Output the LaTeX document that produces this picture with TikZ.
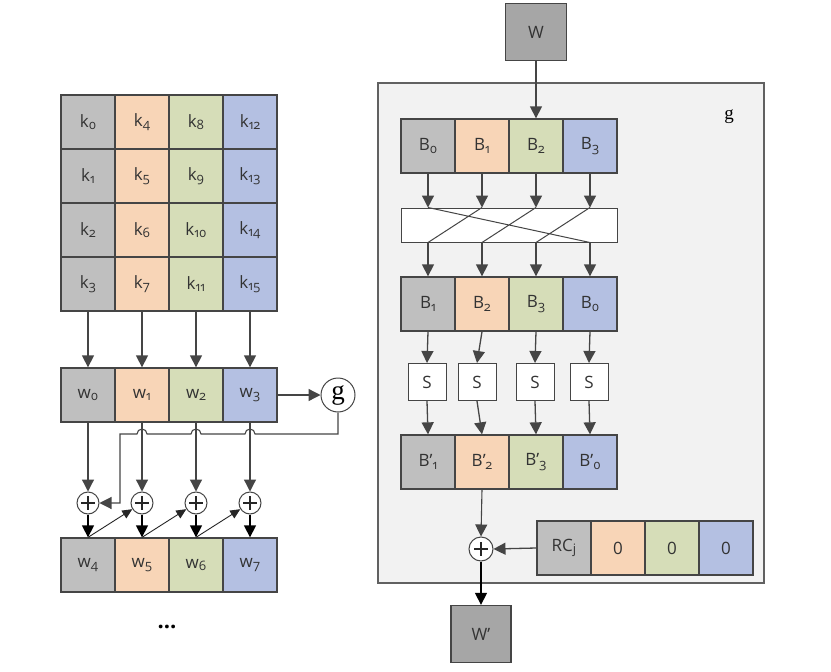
\documentclass[tikz,border=0pt]{standalone}
\usepackage{fontspec}
\setmainfont{Open Sans}
\newfontfamily\subfont{Open Sans}[Numbers=OldStyle]
\newfontfamily\gfont{Liberation Serif}
\usetikzlibrary{arrows.meta}
\definecolor{cgray}{HTML}{BFBFBF}
\definecolor{corange}{HTML}{F8D5B7}
\definecolor{cgreen}{HTML}{D6DDB8}
\definecolor{cblue}{HTML}{B4C0E2}
\definecolor{cdark}{HTML}{A6A6A6}
\definecolor{cframe}{HTML}{F2F2F2}
\definecolor{cline}{HTML}{454545}
\newcommand{\sbs}[1]{\raisebox{-2.5pt}{\subfont\fontsize{13}{13}\selectfont #1}}

\begin{document}
\begin{tikzpicture}[x=1pt, y=-1pt,
  font=\fontsize{17}{20}\selectfont,
  cell/.style={draw=cline, line width=1.3pt, minimum width=54pt, minimum height=54pt, inner sep=0pt, text=black!80},
  sbox/.style={draw=cline, line width=1pt, fill=white, minimum width=38pt, minimum height=37pt, inner sep=0pt, text=black!80},
  xorop/.style={circle, draw=cline, line width=1pt, fill=white, minimum size=22pt, inner sep=0pt,
    path picture={\draw[line width=1.1pt, black!85] (path picture bounding box.center) +(0,7pt) -- +(0,-7pt)
      (path picture bounding box.center) +(-7pt,0) -- +(7pt,0);}},
  arr/.style={draw=cline, line width=1.3pt, -{Triangle[length=12pt,width=12pt]}},
  barr/.style={draw=black, line width=1.3pt, -{Triangle[length=12pt,width=12pt]}},
  darr/.style={draw=black!85, line width=0.9pt, -{Triangle[length=10pt,width=9pt]}}]
  \useasboundingbox (0,0) rectangle (831,672);

  % Key matrix
  \node[cell, fill=cgray]   (k0)  at (88,122) {k\sbs{0}};
  \node[cell, fill=cgray]   (k1)  at (88,176) {k\sbs{1}};
  \node[cell, fill=cgray]   (k2)  at (88,230) {k\sbs{2}};
  \node[cell, fill=cgray]   (k3)  at (88,284) {k\sbs{3}};
  \node[cell, fill=corange] (k4)  at (142,122) {k\sbs{4}};
  \node[cell, fill=corange] (k5)  at (142,176) {k\sbs{5}};
  \node[cell, fill=corange] (k6)  at (142,230) {k\sbs{6}};
  \node[cell, fill=corange] (k7)  at (142,284) {k\sbs{7}};
  \node[cell, fill=cgreen]  (k8)  at (196,122) {k\sbs{8}};
  \node[cell, fill=cgreen]  (k9)  at (196,176) {k\sbs{9}};
  \node[cell, fill=cgreen]  (k10) at (196,230) {k\sbs{10}};
  \node[cell, fill=cgreen]  (k11) at (196,284) {k\sbs{11}};
  \node[cell, fill=cblue]   (k12) at (250,122) {k\sbs{12}};
  \node[cell, fill=cblue]   (k13) at (250,176) {k\sbs{13}};
  \node[cell, fill=cblue]   (k14) at (250,230) {k\sbs{14}};
  \node[cell, fill=cblue]   (k15) at (250,284) {k\sbs{15}};

  % First words and g
  \node[cell, fill=cgray]   (w0) at (88,395)  {w\sbs{0}};
  \node[cell, fill=corange] (w1) at (142,395) {w\sbs{1}};
  \node[cell, fill=cgreen]  (w2) at (196,395) {w\sbs{2}};
  \node[cell, fill=cblue]   (w3) at (250,395) {w\sbs{3}};
  \node[circle, draw=cline, line width=1pt, minimum size=34pt, inner sep=0pt, font=\gfont\fontsize{27}{27}\selectfont] (g) at (338,395) {g};

  \draw[arr] (k3.south)  -- (w0.north);
  \draw[arr] (k7.south)  -- (w1.north);
  \draw[arr] (k11.south) -- (w2.north);
  \draw[arr] (k15.south) -- (w3.north);
  \draw[arr] (w3.east) -- (g.west);

  % XOR row and next words
  \node[xorop] (x0) at (88,503)  {};
  \node[xorop] (x1) at (142,503) {};
  \node[xorop] (x2) at (196,503) {};
  \node[xorop] (x3) at (250,503) {};
  \node[cell, fill=cgray]   (w4) at (88,565)  {w\sbs{4}};
  \node[cell, fill=corange] (w5) at (142,565) {w\sbs{5}};
  \node[cell, fill=cgreen]  (w6) at (196,565) {w\sbs{6}};
  \node[cell, fill=cblue]   (w7) at (250,565) {w\sbs{7}};
  \node[font=\fontsize{22}{24}\selectfont\bfseries] (dots) at (167,627) {...};

  \draw[arr] (w0.south) -- (x0.north);
  \draw[arr] (w1.south) -- (x1.north);
  \draw[arr] (w2.south) -- (x2.north);
  \draw[arr] (w3.south) -- (x3.north);
  \draw[barr] (x0.south) -- (w4.north);
  \draw[barr] (x1.south) -- (w5.north);
  \draw[barr] (x2.south) -- (w6.north);
  \draw[barr] (x3.south) -- (w7.north);
  \draw[darr] (w4.north) -- (x1);
  \draw[darr] (w5.north) -- (x2);
  \draw[darr] (w6.north) -- (x3);

  % Feedback from g, hopping over the columns
  \coordinate (gturn) at (338,434);
  \coordinate (fbk) at (120,434);
  \coordinate (fbd) at (120,503);
  \draw[arr, line width=1.1pt] (g.south) -- (gturn) -- (255,434) arc[start angle=0, end angle=180, radius=5pt]
    -- (201,434) arc[start angle=0, end angle=180, radius=5pt]
    -- (147,434) arc[start angle=0, end angle=180, radius=5pt]
    -- (fbk) -- (fbd) -- (x0.east);

  % Function g
  \node[draw=cline!85, line width=1.3pt, fill=cframe, minimum width=386pt, minimum height=500pt] (gbox) at (571,333) {};
  \node[font=\gfont\fontsize{19}{19}\selectfont] (glabel) at (729,117) {g};
  \node[cell, fill=cdark, minimum width=61pt, minimum height=57pt] (W) at (536,32) {W};

  \node[cell, fill=cgray]   (b0) at (428,146) {B\sbs{0}};
  \node[cell, fill=corange] (b1) at (482,146) {B\sbs{1}};
  \node[cell, fill=cgreen]  (b2) at (536,146) {B\sbs{2}};
  \node[cell, fill=cblue]   (b3) at (590,146) {B\sbs{3}};
  \draw[arr] (W.south) -- (b2.north);

  % Rotation box
  \node[draw=cline, line width=1pt, fill=white, minimum width=216pt, minimum height=34pt] (rot) at (509,225) {};
  \coordinate (t0) at (b0 |- rot.north);
  \coordinate (t1) at (b1 |- rot.north);
  \coordinate (t2) at (b2 |- rot.north);
  \coordinate (t3) at (b3 |- rot.north);
  \coordinate (u0) at (b0 |- rot.south);
  \coordinate (u1) at (b1 |- rot.south);
  \coordinate (u2) at (b2 |- rot.south);
  \coordinate (u3) at (b3 |- rot.south);
  \draw[arr] (b0.south) -- (t0);
  \draw[arr] (b1.south) -- (t1);
  \draw[arr] (b2.south) -- (t2);
  \draw[arr] (b3.south) -- (t3);
  \draw[cline, line width=1pt] (t0) -- (u3) (t1) -- (u0) (t2) -- (u1) (t3) -- (u2);

  \node[cell, fill=cgray]   (c0) at (428,304) {B\sbs{1}};
  \node[cell, fill=corange] (c1) at (482,304) {B\sbs{2}};
  \node[cell, fill=cgreen]  (c2) at (536,304) {B\sbs{3}};
  \node[cell, fill=cblue]   (c3) at (590,304) {B\sbs{0}};
  \draw[arr] (u0) -- (c0.north);
  \draw[arr] (u1) -- (c1.north);
  \draw[arr] (u2) -- (c2.north);
  \draw[arr] (u3) -- (c3.north);

  % S-boxes
  \node[sbox] (s0) at (427,382) {S};
  \node[sbox] (s1) at (477,382) {S};
  \node[sbox] (s2) at (535,382) {S};
  \node[sbox] (s3) at (589,382) {S};
  \draw[arr] (c0.south) -- (s0.north);
  \draw[arr] (c1.south) -- (s1.north);
  \draw[arr] (c2.south) -- (s2.north);
  \draw[arr] (c3.south) -- (s3.north);

  \node[cell, fill=cgray]   (d0) at (428,462) {B’\sbs{1}};
  \node[cell, fill=corange] (d1) at (482,462) {B’\sbs{2}};
  \node[cell, fill=cgreen]  (d2) at (536,462) {B’\sbs{3}};
  \node[cell, fill=cblue]   (d3) at (590,462) {B’\sbs{0}};
  \draw[arr] (s0.south) -- (d0.north);
  \draw[arr] (s1.south) -- (d1.north);
  \draw[arr] (s2.south) -- (d2.north);
  \draw[arr] (s3.south) -- (d3.north);

  % Round constant
  \node[xorop, minimum size=24pt] (xr) at (481,549) {};
  \node[cell, fill=cgray]   (r0) at (564,548) {RC\sbs{j}};
  \node[cell, fill=corange] (r1) at (618,548) {0};
  \node[cell, fill=cgreen]  (r2) at (672,548) {0};
  \node[cell, fill=cblue]   (r3) at (726,548) {0};
  \node[cell, fill=cdark, minimum width=60pt, minimum height=57pt] (Wp) at (481,634) {W’};

  \draw[arr, line width=1.1pt] (d1.south) -- (xr.north);
  \draw[arr] (r0.west) -- (xr.east);
  \draw[barr] (xr.south) -- (Wp.north);
\end{tikzpicture}
\end{document}
